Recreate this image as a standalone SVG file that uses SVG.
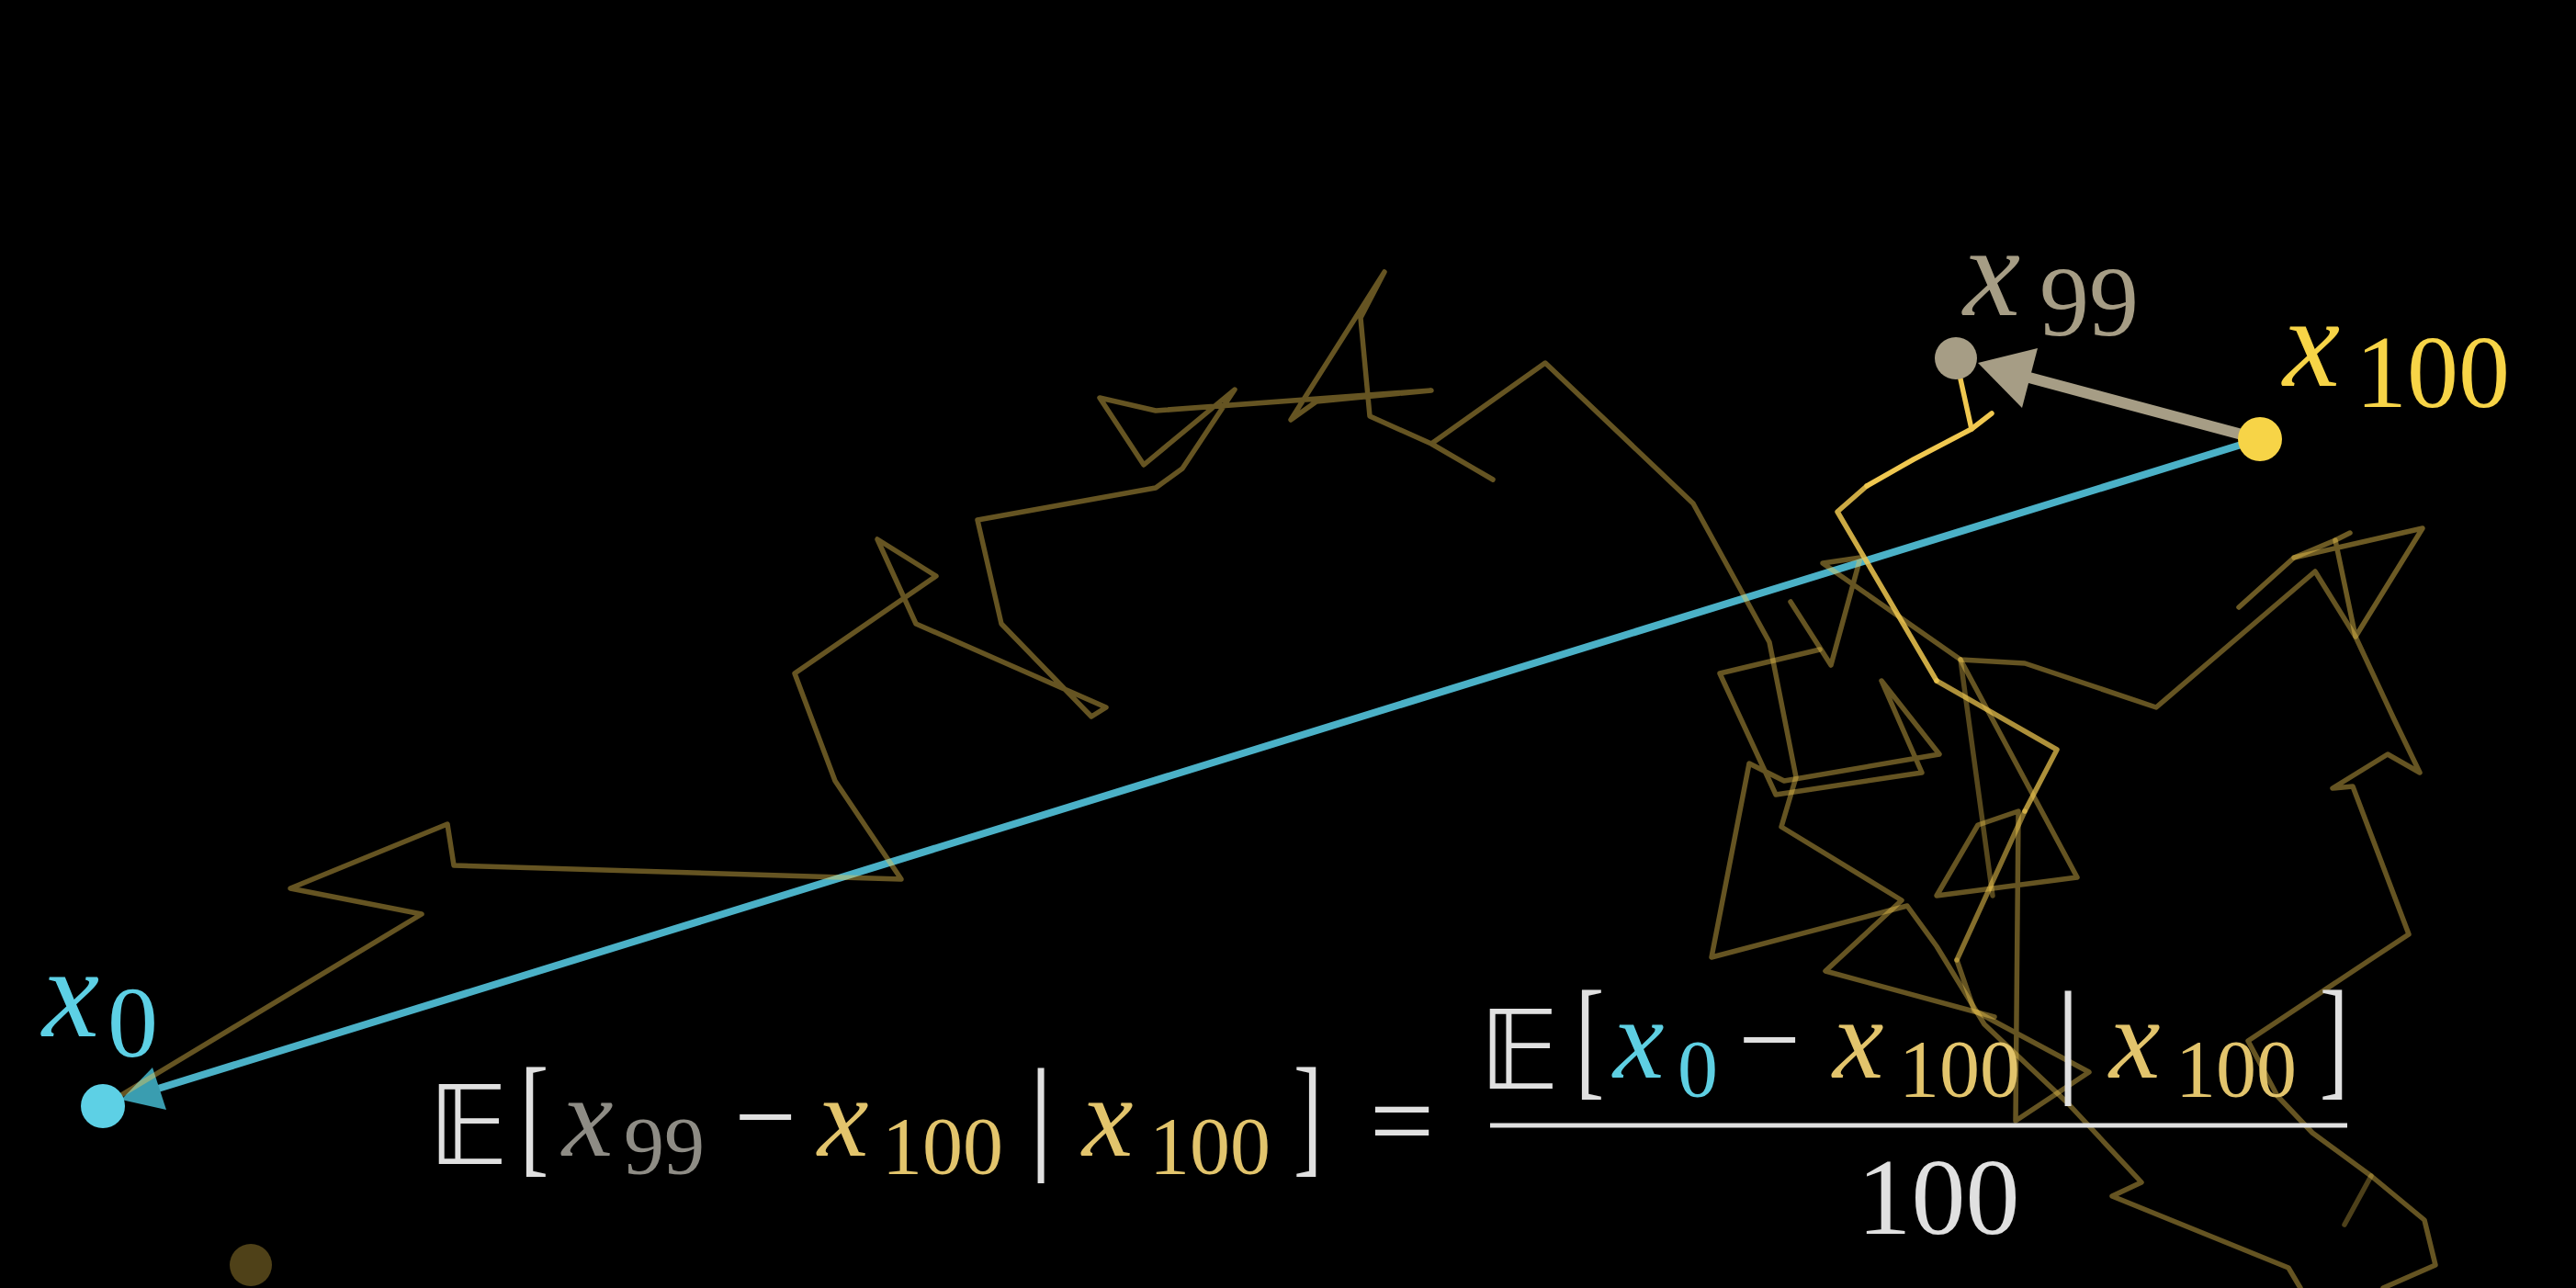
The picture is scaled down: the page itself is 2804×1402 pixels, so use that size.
<svg xmlns="http://www.w3.org/2000/svg" width="2804" height="1402" viewBox="0 0 2804 1402">
<defs>
<style>
.walk{fill:none;stroke:#f0c850;stroke-width:5.5;stroke-linejoin:round;stroke-linecap:round}
.mi{font-family:'Liberation Serif',serif;font-style:italic}
.mr{font-family:'Liberation Serif',serif}
.bb{font-family:'DejaVu Sans',sans-serif}
.wh{fill:#e0e0e0}
.gd{fill:#e2c46c}
.gy{fill:#8e8c85}
.cy{fill:#5ecfe2}
</style>
</defs>
<rect width="2804" height="1402" fill="#000"/>

<g id="connectors">
<line x1="2459" y1="478" x2="172" y2="1185" stroke="#4bb1c7" stroke-width="8"/>
<polygon points="132,1197 166,1162 181,1208" fill="#3a9db0"/>
</g>

<g id="walk">
<polyline class="walk" opacity="0.42" points="112,1204 459,995 316,967 487,897 494,942 981,957 909,850 865,733 1019,627 955,587 997,679 1204,770 1188,780 1090,679 1064,566 1258,531 1287,510 1344,424 1245,506 1197,433 1258,447 1558,425 1433,437 1405,457 1507,296 1481,346 1491,453 1558,483 1625,522 1558,483 1682,395 1843,548 1926,699 1955,846 1939,900 2070,980 1987,1057 2171,1107"/>
<polyline class="walk" opacity="0.42" points="1949,655 1993,724 2025,607 1984,613 2134,718 2204,722 2347,770 2520,622 2564,693 2606,783 2634,841 2599,821 2539,858 2561,856 2622,1017 2587,1040 2447,1133 2479,1193 2517,1233 2581,1280 2639,1328 2651,1377 2594,1402"/>
<polyline class="walk" opacity="0.32" points="2581,1280 2552,1333"/>
<polyline class="walk" opacity="0.42" points="1981,707 1872,733 1933,865 2092,841 2048,741 2111,821 1942,850 1904,831 1863,1042 2076,986 2108,1030 2160,1115 2250,1200 2331,1287 2299,1302 2491,1380 2504,1402"/>
<polyline class="walk" opacity="0.42" points="2134,718 2261,955 2108,975 2153,898 2197,883 2194,1220 2274,1167 2149,1100 2130,1045"/>
<polyline class="walk" opacity="0.36" points="2134,718 2169,975"/>
<polyline class="walk" opacity="0.45" points="2437,661 2497,607 2542,588 2558,580"/>
<polyline class="walk" opacity="0.45" points="2497,607 2637,575 2564,693 2542,588"/>
<polyline class="walk" opacity="0.55" points="2130,1045 2204,883"/>
<polyline class="walk" opacity="0.72" points="2204,883 2239,816 2108,741"/>
<polyline class="walk" opacity="0.85" points="2108,741 2000,557 2032,529"/>
<polyline class="walk" opacity="1" points="2032,529 2083,500 2146,467 2129,390"/>
<polyline class="walk" opacity="1" points="2146,467 2168,450"/>
</g>

<g id="connector-step">
<line x1="2459" y1="478" x2="2205" y2="410" stroke="#a69d85" stroke-width="12"/>
<polygon points="2153,395 2218,379 2201,444" fill="#a69d85"/>
</g>

<g id="node-faded"><circle cx="273" cy="1377" r="23" fill="#4f4118"/></g>

<g id="node-x0">
<circle cx="112" cy="1204" r="24" fill="#5dd0e5"/>
<text class="mi" x="46" y="1128" font-size="140" fill="#5dd0e5">x</text>
<text class="mr" x="117" y="1150" font-size="110" fill="#5dd0e5">0</text>
</g>

<g id="node-x99">
<circle cx="2129" cy="390" r="23" fill="#a69d85"/>
<text class="mi" x="2137" y="343" font-size="140" fill="#a69d85">x</text>
<text class="mr" x="2220" y="365" font-size="108" fill="#a69d85">99</text>
</g>

<g id="node-x100">
<circle cx="2460" cy="478" r="24" fill="#f7d447"/>
<text class="mi" x="2485" y="420" font-size="140" fill="#f7d447">x</text>
<text class="mr" x="2564" y="443" font-size="112" fill="#f7d447">100</text>
</g>

<g id="formula">
<text class="bb wh" x="466" y="1267" font-size="120">𝔼</text>
<text class="mr wh" transform="translate(566,1262) scale(0.65,1)" font-size="144">[</text>
<text class="mi gy" x="612" y="1258" font-size="125">x</text>
<text class="mr gy" x="679" y="1277" font-size="88">99</text>
<text class="mr wh" x="833" y="1256" font-size="120" text-anchor="middle">−</text>
<text class="mi gd" x="890" y="1258" font-size="125">x</text>
<text class="mr gd" x="960" y="1277" font-size="88">100</text>
<text class="mr wh" x="1133" y="1259" font-size="138" text-anchor="middle">|</text>
<text class="mi gd" x="1178" y="1258" font-size="125">x</text>
<text class="mr gd" x="1251" y="1277" font-size="88">100</text>
<text class="mr wh" transform="translate(1408,1262) scale(0.65,1)" font-size="144">]</text>
<text class="mr wh" x="1526" y="1262" font-size="125" text-anchor="middle">=</text>

<text class="bb wh" x="1610" y="1185" font-size="120">𝔼</text>
<text class="mr wh" transform="translate(1715,1178) scale(0.65,1)" font-size="144">[</text>
<text class="mi cy" x="1756" y="1173" font-size="125">x</text>
<text class="mr cy" x="1826" y="1193" font-size="88">0</text>
<text class="mr wh" x="1926" y="1172" font-size="120" text-anchor="middle">−</text>
<text class="mi gd" x="1995" y="1173" font-size="125">x</text>
<text class="mr gd" x="2067" y="1193" font-size="88">100</text>
<text class="mr wh" x="2251" y="1175" font-size="138" text-anchor="middle">|</text>
<text class="mi gd" x="2296" y="1173" font-size="125">x</text>
<text class="mr gd" x="2368" y="1193" font-size="88">100</text>
<text class="mr wh" transform="translate(2525,1178) scale(0.65,1)" font-size="144">]</text>
<line x1="1622" y1="1225" x2="2555" y2="1225" stroke="#e0e0e0" stroke-width="5"/>
<text class="mr wh" x="2110" y="1343" font-size="118" text-anchor="middle">100</text>
</g>
</svg>
